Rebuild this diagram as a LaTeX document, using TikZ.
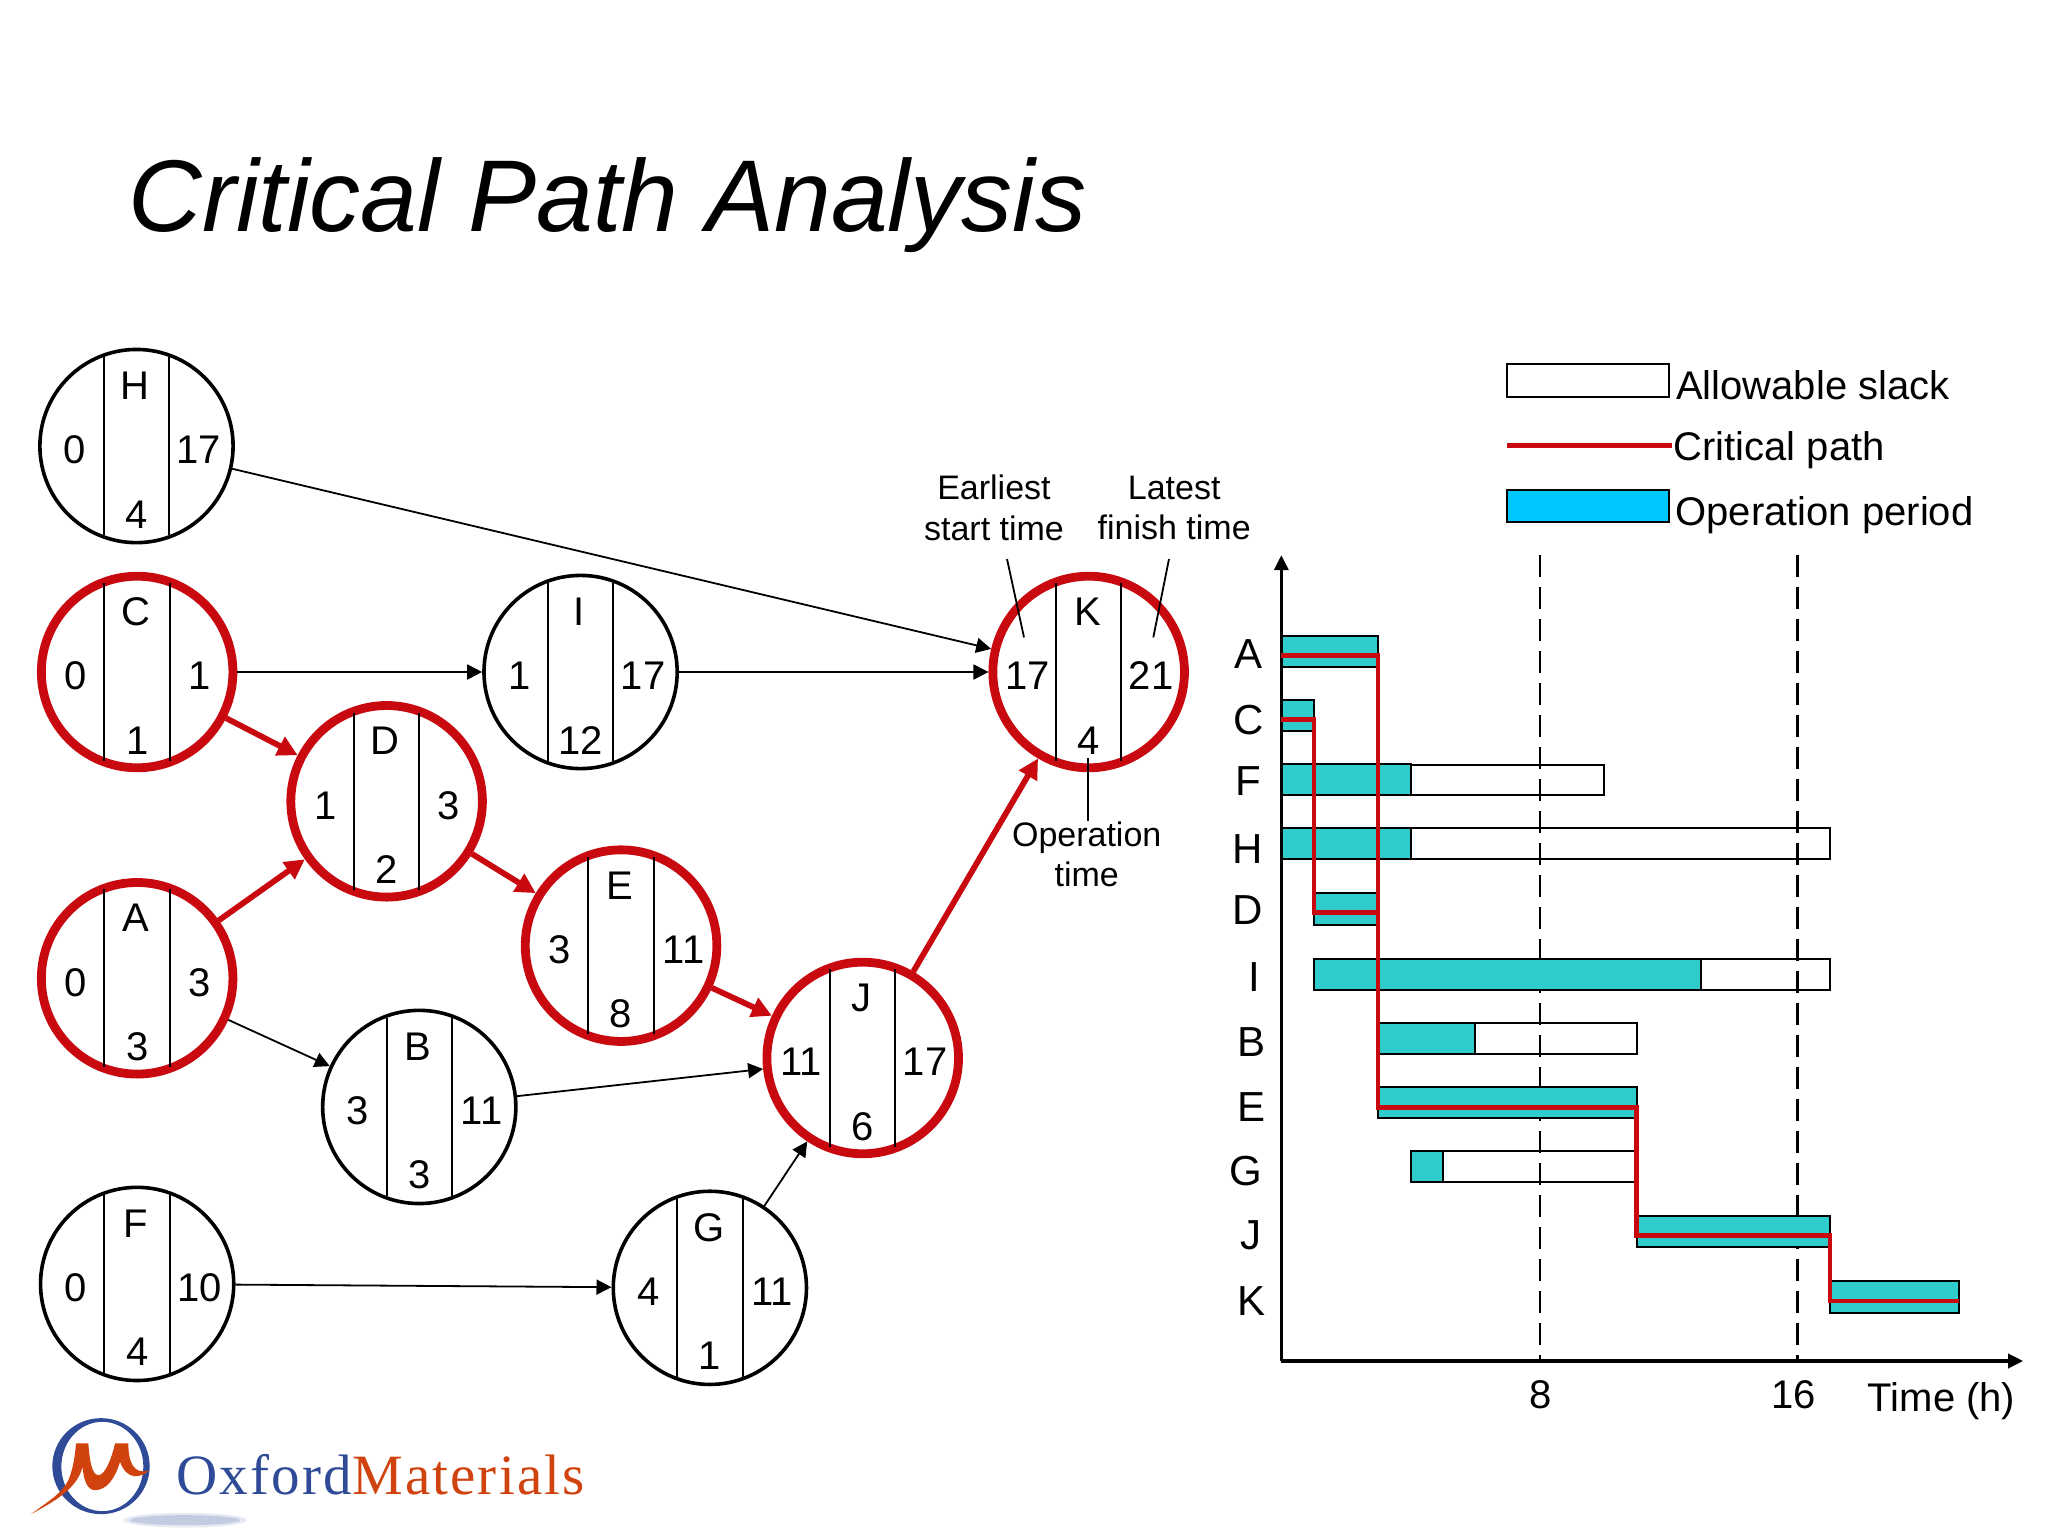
\documentclass[tikz,border=0pt]{standalone}
\usepackage{fontspec}
\setmainfont{Liberation Sans}
\newfontfamily\logofont[LetterSpace=3.8]{Liberation Serif}
\usetikzlibrary{arrows.meta,calc}
\definecolor{critred}{HTML}{C80A10}
\definecolor{barteal}{HTML}{30CCCC}
\definecolor{legcyan}{HTML}{00C8FF}
\definecolor{logoblue}{HTML}{2F4A96}
\definecolor{logoorange}{HTML}{D0420E}
\tikzset{
  blackcirc/.style={circle,draw=black,line width=1.8pt,minimum size=96.6pt,inner sep=0pt},
  redcirc/.style={circle,draw=critred,line width=4.4pt,minimum size=95.8pt,inner sep=0pt},
  divider/.style={black,line width=1pt},
  val/.style={anchor=base,inner sep=0pt,font=\fontsize{20}{24}\selectfont},
  note/.style={align=center,inner sep=0pt,font=\fontsize{17}{20.3}\selectfont},
  thinarrow/.style={black,line width=0.9pt,-{Triangle[length=7.5pt,width=7.5pt]}},
  critarrow/.style={critred,line width=2.9pt,-{Triangle[length=10pt,width=10pt]}},
  leader/.style={black,line width=0.9pt},
  slackbar/.style={draw=black,line width=1pt},
  workbar/.style={fill=barteal,draw=black,line width=1pt},
  critline/.style={critred,line width=2.2pt},
  axisline/.style={black,line width=1.7pt,-{Triangle[length=7.5pt,width=7pt]}},
  timeline/.style={black,line width=1.35pt,dash pattern=on 11pt off 5pt},
  rowlab/.style={val,font=\fontsize{21}{24}\selectfont},
  legtext/.style={anchor=base west,inner sep=0pt,font=\fontsize{20}{24}\selectfont},
}
% name, x, y, style, letter, left, right, bottom
\newcommand{\opnode}[8]{%
  \begin{scope}[shift={(#2,#3)}]
    \node[#4] (#1) at (0,0) {};
    \draw[divider] (-25,-68) -- (-25,68);
    \draw[divider] (25,-68) -- (25,68);
    \node[val] (#1-name) at (-1,-35.5) {#5};
    \node[val] (#1-left) at (-47,13.7) {#6};
    \node[val] (#1-right) at (47.8,13.7) {#7};
    \node[val] (#1-time) at (0,62.8) {#8};
  \end{scope}}
\newcommand{\rowlabel}[3]{\node[rowlab] (row#1) at (#2,#3) {#1};}
\begin{document}
\begin{tikzpicture}[x=0.65306pt,y=-0.65306pt]
\useasboundingbox (0,0) rectangle (1568,1176);
\fill[white] (0,0) rectangle (1568,1176);

\node[anchor=base west,inner sep=0pt,font=\fontsize{51}{60}\selectfont\itshape] (title) at (98,177) {Critical Path Analysis};

% Network
\opnode{H}{104.5}{341.5}{blackcirc}{H}{0}{17}{4}
\opnode{C}{105}{514.5}{redcirc}{C}{0}{1}{1}
\opnode{I}{444.5}{514.5}{blackcirc}{I}{1}{17}{12}
\opnode{D}{296}{613.5}{redcirc}{D}{1}{3}{2}
\opnode{A}{105}{749}{redcirc}{A}{0}{3}{3}
\opnode{E}{475.5}{724}{redcirc}{E}{3}{11}{8}
\opnode{B}{321}{847.5}{blackcirc}{B}{3}{11}{3}
\opnode{J}{660.5}{810}{redcirc}{J}{11}{17}{6}
\opnode{F}{105}{983}{blackcirc}{F}{0}{10}{4}
\opnode{G}{543.5}{986}{blackcirc}{G}{4}{11}{1}
\opnode{K}{833.5}{514.5}{redcirc}{K}{17}{21}{4}

\draw[thinarrow] (H) -- (K);
\draw[thinarrow] (C) -- (I);
\draw[thinarrow] (I) -- (K);
\draw[thinarrow] (A) -- (B);
\draw[thinarrow] (B) -- (J);
\draw[thinarrow] (F) -- (G);
\draw[thinarrow] (G) -- (J);
\draw[critarrow] (C) -- (D);
\draw[critarrow] (A) -- (D);
\draw[critarrow] (D) -- (E);
\draw[critarrow] (E) -- (J);
\draw[critarrow] (J) -- (K);

% Annotations
\node[note] (earliest) at (761,389) {Earliest\\start time};
\node[note] (latest) at (899,389) {Latest\\finish time};
\node[note] (optime) at (832,654) {Operation\\time};
\coordinate (earliestend) at (784,488);
\coordinate (latestend) at (883,488);
\coordinate (optimeend) at (833,580);
\draw[leader] (771,428) -- (earliestend);
\draw[leader] (895,428) -- (latestend);
\draw[leader] (optime.north -| optimeend) -- (optimeend);

% Gantt: time lines, bars, axes, critical path
\coordinate (origin) at (981,1042);
\coordinate (ytop) at (981,425);
\coordinate (xend) at (1549,1042);
\draw[timeline] (1179,425) -- (1179,1042);
\draw[timeline] (1376,425) -- (1376,1042);

\draw[workbar] (981,487) rectangle (1055,511);
\draw[workbar] (981,536) rectangle (1006,560);
\draw[slackbar] (1080,586) rectangle (1228,609);
\draw[workbar] (981,585) rectangle (1080,609);
\draw[slackbar] (1080,634) rectangle (1401,658);
\draw[workbar] (981,634) rectangle (1080,658);
\draw[workbar] (1006,684) rectangle (1055,708);
\draw[slackbar] (1302,734) rectangle (1401,758);
\draw[workbar] (1006,734) rectangle (1302,758);
\draw[slackbar] (1129,783) rectangle (1253,807);
\draw[workbar] (1056,783) rectangle (1129,807);
\draw[workbar] (1055,832) rectangle (1253,856);
\draw[slackbar] (1105,881) rectangle (1253,905);
\draw[workbar] (1080,881) rectangle (1105,905);
\draw[workbar] (1253,931) rectangle (1401,955);
\draw[workbar] (1401,981) rectangle (1500,1005);

\draw[axisline] (origin) -- (ytop);
\draw[axisline] (origin) -- (xend);

\draw[critline] (981,502) -- (1055,502) -- (1055,848) -- (1253,848) -- (1253,946) -- (1401,946) -- (1401,996) -- (1500,996);
\draw[critline] (981,551) -- (1006,551) -- (1006,698.5) -- (1055,698.5);

\rowlabel{A}{956}{512}
\rowlabel{C}{956}{562}
\rowlabel{F}{956}{609}
\rowlabel{H}{955}{661}
\rowlabel{D}{955}{708}
\rowlabel{I}{960}{759}
\rowlabel{B}{958}{809}
\rowlabel{E}{958}{859}
\rowlabel{G}{954}{908}
\rowlabel{J}{958}{957}
\rowlabel{K}{958}{1007}

\node[val] (tick8) at (1179.5,1078) {8};
\node[val] (tick16) at (1373,1078) {16};
\node[val] (timelab) at (1486.5,1081) {Time (h)};

% Legend
\draw[slackbar] (1154,279) rectangle (1278,304);
\draw[critred,line width=2.4pt] (1154,341) -- (1280,341);
\draw[fill=legcyan,draw=black,line width=1pt] (1154,375) rectangle (1278,400);
\node[legtext] (legslack) at (1283,306) {Allowable slack};
\node[legtext] (legcrit) at (1281,352.5) {Critical path};
\node[legtext] (legop) at (1282.5,402) {Operation period};

% Logo
\begin{scope}[shift={(15.31,1075.8)},x=0.1667pt,y=-0.1667pt]
  \fill[logoblue!35,opacity=.35] (495,345) ellipse [x radius=185,y radius=22];
  \fill[logoblue!40,opacity=.6] (495,345) ellipse [x radius=165,y radius=15];
  \fill[logoblue,even odd rule] (243,183) ellipse [x radius=146,y radius=144]
     (247,184) ellipse [x radius=123,y radius=134];
  \fill[logoorange] (33,327) .. controls (90,285) and (125,265) .. (145,225)
     .. controls (160,190) and (165,150) .. (168,115) -- (205,115)
     .. controls (208,160) and (215,210) .. (235,210)
     .. controls (255,210) and (275,160) .. (285,115) -- (325,115)
     .. controls (325,170) and (340,210) .. (388,196)
     .. controls (360,220) and (320,225) .. (300,170)
     .. controls (285,220) and (260,255) .. (225,255)
     .. controls (200,255) and (190,220) .. (188,185)
     .. controls (170,250) and (110,285) .. (33,327) -- cycle;
\end{scope}
\node[anchor=base west,inner sep=0pt,font=\fontsize{28.5}{30}\logofont] (logotext) at (135,1144.5) {\textcolor{logoblue}{Oxford}\textcolor{logoorange}{Materials}};
\end{tikzpicture}
\end{document}
